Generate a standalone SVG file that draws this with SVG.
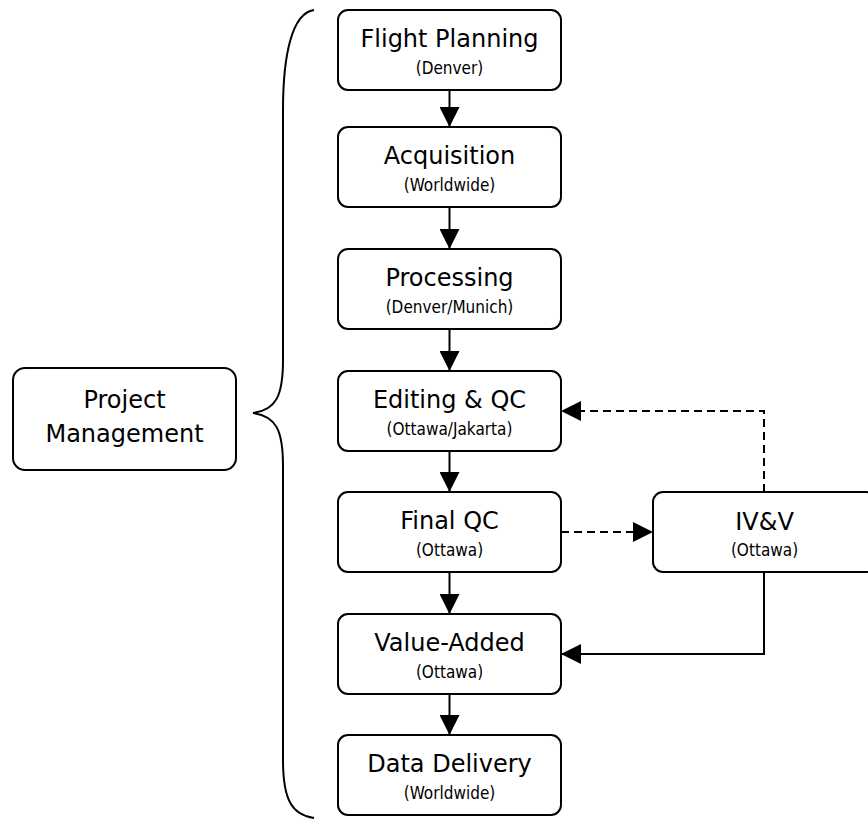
<svg xmlns="http://www.w3.org/2000/svg" width="868" height="820" viewBox="0 0 868 820">
  <style>
    .box { fill: #ffffff; stroke: #000000; stroke-width: 2; }
    .t { font-family: "DejaVu Sans", Verdana, sans-serif; font-size: 24px; fill: #000; text-anchor: middle; }
    .s { font-family: "DejaVu Sans Condensed", "DejaVu Sans", sans-serif; font-size: 17px; fill: #000; text-anchor: middle; }
    .c { fill: none; stroke: #000; stroke-width: 2; }
    .d { stroke-dasharray: 8 5; }
  </style>
  <defs>
    <marker id="ah" markerUnits="userSpaceOnUse" markerWidth="20" markerHeight="20" refX="20" refY="10" orient="auto" viewBox="0 0 20 20">
      <path d="M0,0 L20,10 L0,20 z" fill="#000"/>
    </marker>
  </defs>
  <rect width="868" height="820" fill="#ffffff"/>

  <g id="brace">
    <path class="c" d="M314,10 C292,13 283,55 283,110 L283,360 C283,396 276,410 253,413 C276,416 283,430 283,466 L283,760 C283,800 292,815 314,818"/>
  </g>

  <g id="connectors">
    <line class="c" x1="449.5" y1="90" x2="449.5" y2="127" marker-end="url(#ah)"/>
    <line class="c" x1="449.5" y1="207" x2="449.5" y2="249" marker-end="url(#ah)"/>
    <line class="c" x1="449.5" y1="329" x2="449.5" y2="371" marker-end="url(#ah)"/>
    <line class="c" x1="449.5" y1="451" x2="449.5" y2="492" marker-end="url(#ah)"/>
    <line class="c" x1="449.5" y1="572" x2="449.5" y2="614" marker-end="url(#ah)"/>
    <line class="c" x1="449.5" y1="694" x2="449.5" y2="735" marker-end="url(#ah)"/>
    <path class="c d" d="M561,532 L653,532" marker-end="url(#ah)"/>
    <path class="c d" d="M764,492 L764,411 L561,411" marker-end="url(#ah)"/>
    <path class="c" d="M764,572 L764,654 L561,654" marker-end="url(#ah)"/>
  </g>

  <g id="pm">
    <rect class="box" x="13" y="368" width="223" height="102" rx="12"/>
    <text class="t" x="124.5" y="408">Project</text>
    <text class="t" x="124.5" y="442">Management</text>
  </g>

  <g id="flight-planning">
    <rect class="box" x="338" y="10" width="223" height="80" rx="10"/>
    <text class="t" x="449.5" y="47">Flight Planning</text>
    <text class="s" x="449.5" y="74">(Denver)</text>
  </g>
  <g id="acquisition">
    <rect class="box" x="338" y="127" width="223" height="80" rx="10"/>
    <text class="t" x="449.5" y="164">Acquisition</text>
    <text class="s" x="449.5" y="191">(Worldwide)</text>
  </g>
  <g id="processing">
    <rect class="box" x="338" y="249" width="223" height="80" rx="10"/>
    <text class="t" x="449.5" y="286">Processing</text>
    <text class="s" x="449.5" y="313">(Denver/Munich)</text>
  </g>
  <g id="editing">
    <rect class="box" x="338" y="371" width="223" height="80" rx="10"/>
    <text class="t" x="449.5" y="408">Editing &amp; QC</text>
    <text class="s" x="449.5" y="435">(Ottawa/Jakarta)</text>
  </g>
  <g id="final-qc">
    <rect class="box" x="338" y="492" width="223" height="80" rx="10"/>
    <text class="t" x="449.5" y="529">Final QC</text>
    <text class="s" x="449.5" y="556">(Ottawa)</text>
  </g>
  <g id="value-added">
    <rect class="box" x="338" y="614" width="223" height="80" rx="10"/>
    <text class="t" x="449.5" y="651">Value-Added</text>
    <text class="s" x="449.5" y="678">(Ottawa)</text>
  </g>
  <g id="data-delivery">
    <rect class="box" x="338" y="735" width="223" height="80" rx="10"/>
    <text class="t" x="449.5" y="772">Data Delivery</text>
    <text class="s" x="449.5" y="799">(Worldwide)</text>
  </g>
  <g id="ivv">
    <rect class="box" x="653" y="492" width="223" height="80" rx="10"/>
    <text class="t" x="764.5" y="530">IV&amp;V</text>
    <text class="s" x="764.5" y="556">(Ottawa)</text>
  </g>
</svg>
